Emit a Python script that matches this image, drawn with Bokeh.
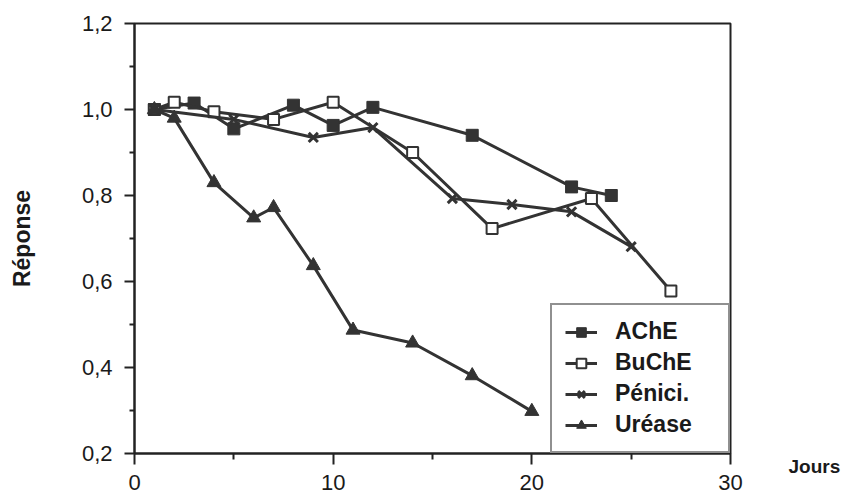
from bokeh.plotting import figure
from bokeh.models import FixedTicker, CustomJSTickFormatter, Range1d, LinearAxis
from bokeh.embed import file_html
from bokeh.resources import INLINE

# ---- data ----
ache_x = [1, 3, 5, 8, 10, 12, 17, 22, 24]
ache_y = [1.0, 1.015, 0.955, 1.01, 0.963, 1.005, 0.94, 0.82, 0.80]

buche_x = [1, 2, 4, 7, 10, 14, 18, 23, 27]
buche_y = [1.0, 1.017, 0.995, 0.977, 1.017, 0.90, 0.723, 0.793, 0.578]

penici_x = [1, 5, 9, 12, 16, 19, 22, 25]
penici_y = [1.0, 0.977, 0.935, 0.958, 0.793, 0.779, 0.762, 0.681]

urease_x = [1, 2, 4, 6, 7, 9, 11, 14, 17, 20]
urease_y = [1.0, 0.98, 0.83, 0.748, 0.772, 0.637, 0.487, 0.457, 0.381, 0.298]

x_ticks = [0, 10, 20, 30]
x_minor = [5, 15, 25]
y_ticks = [0.2, 0.4, 0.6, 0.8, 1.0, 1.2]
y_minor = [0.3, 0.5, 0.7, 0.9, 1.1]

x_title = "Jours"
y_title = "Réponse"

DARK = "#333333"
TXT = "#1a1a1a"
FONT = "Liberation Sans"

p = figure(width=843, height=500, output_backend="svg", toolbar_location=None,
           x_range=Range1d(0, 30), y_range=Range1d(0.2, 1.2),
           min_border_left=134, min_border_right=111, min_border_top=23, min_border_bottom=47)

p.grid.visible = False
p.outline_line_color = "#222222"
p.outline_line_width = 2
p.background_fill_color = "white"
p.border_fill_color = "white"

# axes
for ax in (p.xaxis[0], p.yaxis[0]):
    ax.axis_line_color = "#222222"
    ax.axis_line_width = 2
    ax.major_tick_line_color = "#222222"
    ax.major_tick_line_width = 2
    ax.minor_tick_line_color = "#222222"
    ax.minor_tick_line_width = 2
    ax.major_tick_in = 0
    ax.minor_tick_in = 0
    ax.major_label_text_font = FONT
    ax.major_label_text_color = TXT

p.xaxis.ticker = FixedTicker(ticks=x_ticks, minor_ticks=x_minor)
p.xaxis.major_tick_out = 11
p.xaxis.minor_tick_out = 6
p.xaxis.major_label_standoff = 10
p.xaxis.major_label_text_font_size = "22px"

p.yaxis.ticker = FixedTicker(ticks=y_ticks, minor_ticks=y_minor)
p.yaxis.formatter = CustomJSTickFormatter(code="return tick.toFixed(1).replace('.', ',');")
p.yaxis.major_tick_out = 10
p.yaxis.minor_tick_out = 5
p.yaxis.major_label_standoff = 12
p.yaxis.major_label_text_font_size = "22px"
p.yaxis.axis_label = y_title
p.yaxis.axis_label_text_font = FONT
p.yaxis.axis_label_text_font_style = "bold"
p.yaxis.axis_label_text_font_size = "23px"
p.yaxis.axis_label_text_color = TXT
p.yaxis.axis_label_standoff = 44

# "Jours" title: the single tick label of a bare right-hand axis at the frame bottom
# (a leading line break drops it just below the x axis line, as in the reference)
jours_axis = LinearAxis(ticker=FixedTicker(ticks=[y_ticks[0]], minor_ticks=[]),
                        formatter=CustomJSTickFormatter(code="return '\\n%s';" % x_title),
                        axis_line_color=None, major_tick_line_color=None,
                        minor_tick_line_color=None, major_tick_out=0, major_tick_in=0,
                        major_label_standoff=58,
                        major_label_text_font=FONT, major_label_text_font_style="bold",
                        major_label_text_font_size="19px", major_label_text_color=TXT,
                        major_label_text_line_height=1.2)
p.add_layout(jours_axis, "right")

# series
p.line(ache_x, ache_y, line_color=DARK, line_width=3, legend_label="AChE")
p.scatter(ache_x, ache_y, marker="square", size=12, fill_color=DARK, line_color=DARK,
          legend_label="AChE")

p.line(buche_x, buche_y, line_color=DARK, line_width=3, legend_label="BuChE")
p.scatter(buche_x, buche_y, marker="square", size=11, fill_color="white", line_color=DARK,
          line_width=2, legend_label="BuChE")

p.line(penici_x, penici_y, line_color=DARK, line_width=3, legend_label="Pénici.")
p.scatter(penici_x, penici_y, marker="x", size=13, line_color=DARK, line_width=3,
          legend_label="Pénici.")

p.line(urease_x, urease_y, line_color=DARK, line_width=3, legend_label="Uréase")
p.scatter(urease_x, urease_y, marker="triangle", size=14, fill_color=DARK, line_color=DARK,
          legend_label="Uréase")

# legend
lg = p.legend[0]
lg.location = "bottom_right"
lg.margin = 0
lg.padding = 13
lg.spacing = 4
lg.glyph_width = 32
lg.glyph_height = 24
lg.label_height = 24
lg.label_standoff = 18
lg.label_width = 100
lg.label_text_font = FONT
lg.label_text_font_style = "bold"
lg.label_text_font_size = "23px"
lg.label_text_color = TXT
lg.border_line_color = "#222222"
lg.border_line_width = 2
lg.background_fill_color = "white"
lg.background_fill_alpha = 1.0

open("out.html", "w").write(file_html(p, INLINE))
